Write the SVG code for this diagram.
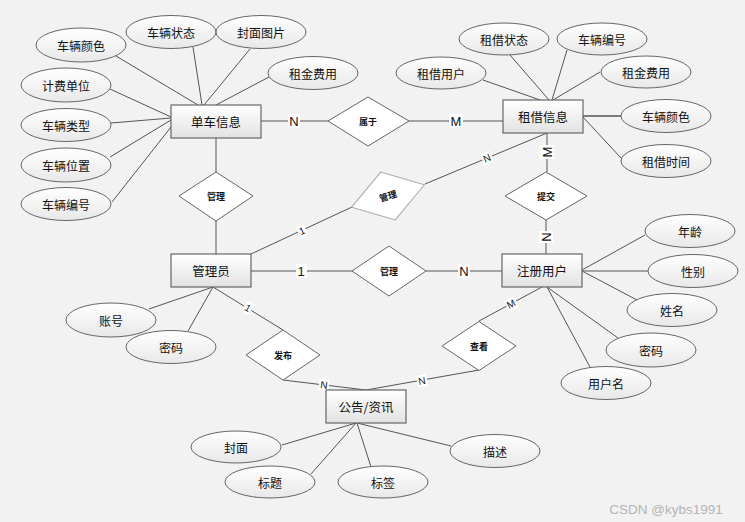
<svg xmlns="http://www.w3.org/2000/svg" width="745" height="522" viewBox="0 0 745 522">
<defs>
<linearGradient id="gr" x1="0" y1="0" x2="0" y2="1"><stop offset="0" stop-color="#ffffff"/><stop offset="1" stop-color="#e2e2e2"/></linearGradient>
<linearGradient id="ge" x1="0" y1="0" x2="0" y2="1"><stop offset="0" stop-color="#ffffff"/><stop offset="1" stop-color="#e8e8e8"/></linearGradient>
<style>
.ent rect{fill:url(#gr);stroke:#666;stroke-width:1.2}
.att ellipse{fill:url(#ge);stroke:#666;stroke-width:1}
.rel polygon{fill:#fff;stroke:#666;stroke-width:1}
text{font-family:"Noto Sans CJK SC","Liberation Sans",sans-serif;fill:#111;text-anchor:middle;dominant-baseline:central}
.et{font-size:12.5px}
.at{font-size:12px}
.rt{font-size:9px;font-weight:bold}
.card rect{fill:#fff}
.card text{font-family:"Liberation Sans",sans-serif;font-size:13px}
.card .s{font-size:10px}
#links line{stroke:#555;stroke-width:1}
</style>
</defs>
<rect width="745" height="522" fill="#f2f2f2"/>
<g id="links">
<line x1="116" y1="56" x2="198" y2="105"/>
<line x1="193" y1="47" x2="202" y2="105"/>
<line x1="250" y1="49" x2="204" y2="105"/>
<line x1="269" y1="77" x2="216" y2="105"/>
<line x1="110" y1="89" x2="171" y2="117"/>
<line x1="111" y1="123" x2="171" y2="118"/>
<line x1="110" y1="157" x2="171" y2="120"/>
<line x1="112" y1="202" x2="171" y2="127"/>
<line x1="261" y1="121" x2="328" y2="121"/>
<line x1="216" y1="138" x2="216" y2="172"/>
<line x1="216" y1="221" x2="216" y2="254"/>
<line x1="483" y1="80" x2="540" y2="100"/>
<line x1="510" y1="55" x2="549" y2="100"/>
<line x1="567" y1="50" x2="552" y2="100"/>
<line x1="600" y1="72" x2="553" y2="100"/>
<line x1="583" y1="116" x2="621" y2="116" style="stroke-width:1.6"/>
<line x1="621" y1="158" x2="583" y2="117"/>
<line x1="409" y1="121" x2="503" y2="121"/>
<line x1="547" y1="133" x2="547" y2="172"/>
<line x1="425" y1="184" x2="547" y2="133"/>
<line x1="546" y1="220" x2="546" y2="254"/>
<line x1="251" y1="254" x2="352" y2="207"/>
<line x1="251" y1="271" x2="352" y2="271"/>
<line x1="426" y1="271" x2="502" y2="271"/>
<line x1="213" y1="287" x2="149" y2="309"/>
<line x1="213" y1="287" x2="188" y2="331"/>
<line x1="213" y1="287" x2="283" y2="330"/>
<line x1="283" y1="380" x2="366" y2="390"/>
<line x1="645" y1="235" x2="582" y2="270"/>
<line x1="648" y1="271" x2="582" y2="271"/>
<line x1="637" y1="300" x2="582" y2="271"/>
<line x1="618" y1="338" x2="547" y2="287"/>
<line x1="590" y1="367" x2="547" y2="287"/>
<line x1="542" y1="287" x2="479" y2="321"/>
<line x1="479" y1="370" x2="366" y2="390"/>
<line x1="356" y1="423" x2="282" y2="445"/>
<line x1="356" y1="423" x2="311" y2="474"/>
<line x1="357" y1="423" x2="371" y2="467"/>
<line x1="357" y1="423" x2="451" y2="446"/>
</g>
<g id="cards" class="card">
<rect x="288" y="114" width="12" height="14"/><text x="294" y="121">N</text>
<rect x="449" y="114" width="14" height="14"/><text x="456" y="121">M</text>
<g transform="translate(547,152) rotate(-90)"><rect x="-7" y="-7" width="14" height="14"/><text x="0" y="0">M</text></g>
<g transform="translate(546,237) rotate(-90)"><rect x="-6" y="-7" width="12" height="14"/><text x="0" y="0">N</text></g>
<rect x="296" y="264" width="11" height="14"/><text x="301" y="271">1</text>
<rect x="458" y="264" width="12" height="14"/><text x="464" y="271">N</text>
<g transform="translate(302,231) rotate(-25)"><rect x="-4" y="-6" width="8" height="12"/><text class="s" x="0" y="0">1</text></g>
<g transform="translate(487,158) rotate(-23)"><rect x="-5" y="-6" width="10" height="12"/><text class="s" x="0" y="0">N</text></g>
<g transform="translate(511,304) rotate(-28)"><rect x="-5" y="-6" width="11" height="12"/><text class="s" x="0" y="0">M</text></g>
<g transform="translate(248,308) rotate(31)"><rect x="-4" y="-6" width="8" height="12"/><text class="s" x="0" y="0">1</text></g>
<g transform="translate(324,385) rotate(7)"><rect x="-5" y="-6" width="10" height="12"/><text class="s" x="0" y="0">N</text></g>
<g transform="translate(422,381) rotate(-10)"><rect x="-5" y="-6" width="10" height="12"/><text class="s" x="0" y="0">N</text></g>
</g>
<g id="e-bike" class="ent"><rect x="171" y="105" width="90" height="33"/><text class="et" x="216" y="121.5">单车信息</text></g>
<g id="e-rent" class="ent"><rect x="503" y="100" width="80" height="33"/><text class="et" x="543" y="116.5">租借信息</text></g>
<g id="e-admin" class="ent"><rect x="171" y="254" width="80" height="33"/><text class="et" x="211" y="270.5">管理员</text></g>
<g id="e-user" class="ent"><rect x="502" y="254" width="80" height="33"/><text class="et" x="542" y="270.5">注册用户</text></g>
<g id="e-notice" class="ent"><rect x="326" y="390" width="80" height="33"/><text class="et" x="366" y="406.5">公告/资讯</text></g>
<g id="r-belong" class="rel"><polygon points="328,121 368,97 409,121 368,146"/><text class="rt" x="368" y="121">属于</text></g>
<g id="r-manage1" class="rel"><polygon points="179,196 216,172 253,196 216,221"/><text class="rt" x="216" y="196">管理</text></g>
<g id="r-manage2" class="rel" transform="translate(388,196) rotate(-17)"><polygon points="-38,0 0,-25 38,0 0,25" style="stroke:#aaa"/><text class="rt" x="0" y="0">管理</text></g>
<g id="r-submit" class="rel"><polygon points="505,196 546,172 587,196 546,220"/><text class="rt" x="546" y="196">提交</text></g>
<g id="r-manage3" class="rel"><polygon points="352,271 389,246 426,271 389,296"/><text class="rt" x="389" y="271">管理</text></g>
<g id="r-publish" class="rel"><polygon points="246,355 283,330 320,355 283,380"/><text class="rt" x="283" y="355">发布</text></g>
<g id="r-view" class="rel"><polygon points="442,346 479,321.5 516,346 479,370.5"/><text class="rt" x="479" y="346">查看</text></g>
<g id="a-color" class="att"><ellipse cx="81" cy="45" rx="45" ry="17"/><text class="at" x="81" y="45">车辆颜色</text></g>
<g id="a-status" class="att"><ellipse cx="171" cy="32" rx="45" ry="16.5"/><text class="at" x="171" y="32">车辆状态</text></g>
<g id="a-cover" class="att"><ellipse cx="261" cy="32" rx="45" ry="16.5"/><text class="at" x="261" y="32">封面图片</text></g>
<g id="a-fee" class="att"><ellipse cx="313" cy="73" rx="45" ry="16.5"/><text class="at" x="313" y="73">租金费用</text></g>
<g id="a-unit" class="att"><ellipse cx="66" cy="85" rx="45" ry="17"/><text class="at" x="66" y="85">计费单位</text></g>
<g id="a-type" class="att"><ellipse cx="66" cy="125" rx="45" ry="16.5"/><text class="at" x="66" y="125">车辆类型</text></g>
<g id="a-pos" class="att"><ellipse cx="66" cy="165" rx="45" ry="17"/><text class="at" x="66" y="165">车辆位置</text></g>
<g id="a-no" class="att"><ellipse cx="66" cy="204" rx="45" ry="16.5"/><text class="at" x="66" y="204">车辆编号</text></g>
<g id="a-rstatus" class="att"><ellipse cx="504" cy="39" rx="45" ry="16"/><text class="at" x="504" y="39">租借状态</text></g>
<g id="a-rno" class="att"><ellipse cx="602" cy="39" rx="45" ry="16"/><text class="at" x="602" y="39">车辆编号</text></g>
<g id="a-ruser" class="att"><ellipse cx="441" cy="73" rx="45" ry="16"/><text class="at" x="441" y="73">租借用户</text></g>
<g id="a-rfee" class="att"><ellipse cx="646" cy="72" rx="45" ry="16"/><text class="at" x="646" y="72">租金费用</text></g>
<g id="a-rcolor" class="att"><ellipse cx="666" cy="116" rx="45" ry="16.5"/><text class="at" x="666" y="116">车辆颜色</text></g>
<g id="a-rtime" class="att"><ellipse cx="666" cy="161" rx="45" ry="16.5"/><text class="at" x="666" y="161">租借时间</text></g>
<g id="a-acct" class="att"><ellipse cx="111" cy="320" rx="45" ry="17"/><text class="at" x="111" y="320">账号</text></g>
<g id="a-apwd" class="att"><ellipse cx="171" cy="347" rx="45" ry="16.5"/><text class="at" x="171" y="347">密码</text></g>
<g id="a-age" class="att"><ellipse cx="690" cy="231" rx="45" ry="16.5"/><text class="at" x="690" y="231">年龄</text></g>
<g id="a-sex" class="att"><ellipse cx="693" cy="271" rx="45" ry="16.5"/><text class="at" x="693" y="271">性别</text></g>
<g id="a-name" class="att"><ellipse cx="672" cy="310" rx="45" ry="16.5"/><text class="at" x="672" y="310">姓名</text></g>
<g id="a-upwd" class="att"><ellipse cx="651" cy="350" rx="45" ry="17"/><text class="at" x="651" y="350">密码</text></g>
<g id="a-uname" class="att"><ellipse cx="606" cy="383" rx="45" ry="16.5"/><text class="at" x="606" y="383">用户名</text></g>
<g id="a-ncover" class="att"><ellipse cx="236" cy="447" rx="45" ry="16"/><text class="at" x="236" y="447">封面</text></g>
<g id="a-ntitle" class="att"><ellipse cx="270" cy="482" rx="45" ry="16"/><text class="at" x="270" y="482">标题</text></g>
<g id="a-ntag" class="att"><ellipse cx="383" cy="482" rx="45" ry="16"/><text class="at" x="383" y="482">标签</text></g>
<g id="a-ndesc" class="att"><ellipse cx="495" cy="451" rx="45" ry="16.5"/><text class="at" x="495" y="451">描述</text></g>
<text x="666" y="509" style="font-family:'Liberation Sans',sans-serif;font-size:13.5px;fill:#b4b4b4">CSDN @kybs1991</text>
</svg>
